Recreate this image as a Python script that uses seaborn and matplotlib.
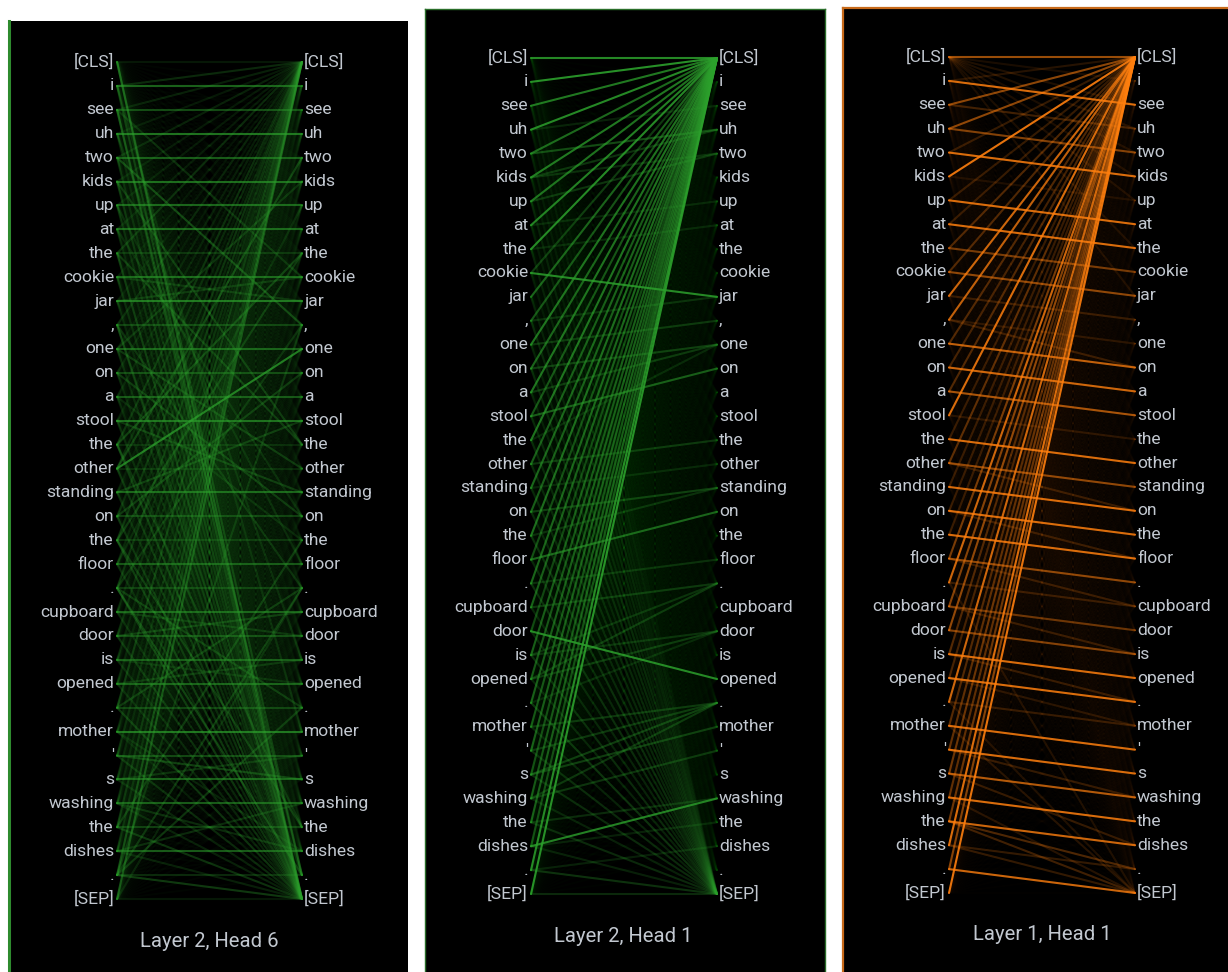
import numpy as np
import matplotlib
matplotlib.use("Agg")
import matplotlib.pyplot as plt
from matplotlib.collections import LineCollection
from matplotlib.colors import to_rgb
import seaborn as sns

sns.set_theme(style="white")
plt.rcParams["font.family"] = ["Roboto", "DejaVu Sans"]

# ---------------------------------------------------------------- tokens
TOKENS = ["[CLS]", "i", "see", "uh", "two", "kids", "up", "at", "the", "cookie",
          "jar", ",", "one", "on", "a", "stool", "the", "other", "standing", "on",
          "the", "floor", ".", "cupboard", "door", "is", "opened", ".", "mother", "'",
          "s", "washing", "the", "dishes", ".", "[SEP]"]
N = len(TOKENS)

# ------------------------------------------------ Layer 2, Head 6 weights
L2H6_SELF = [0.15, 0.6, 0.45, 0.7, 0.55, 0.65, 0.6, 0.6, 0.25, 0.6,
             0.7, 0.35, 0.55, 0.4, 0.5, 0.65, 0.2, 0.2, 0.6, 0.35,
             0.25, 0.5, 0.3, 0.55, 0.4, 0.5, 0.55, 0.35, 0.7, 0.4,
             0.55, 0.55, 0.35, 0.55, 0.25, 0.15]
L2H6_TO_CLS = [0.0, 0.25, 0.2, 0.15, 0.2, 0.15, 0.15, 0.15, 0.25, 0.1,
               0.1, 0.2, 0.1, 0.15, 0.15, 0.1, 0.25, 0.2, 0.1, 0.2,
               0.25, 0.15, 0.25, 0.15, 0.2, 0.15, 0.15, 0.3, 0.1, 0.2,
               0.15, 0.15, 0.25, 0.2, 0.4, 0.45]
L2H6_TO_SEP = [0.45, 0.3, 0.3, 0.15, 0.2, 0.25, 0.2, 0.15, 0.3, 0.2,
               0.15, 0.25, 0.2, 0.15, 0.15, 0.2, 0.3, 0.25, 0.2, 0.25,
               0.3, 0.2, 0.3, 0.2, 0.25, 0.2, 0.2, 0.3, 0.15, 0.25,
               0.2, 0.2, 0.3, 0.2, 0.35, 0.0]
L2H6_EXTRA = [(17, 12, 0.75), (4, 11, 0.4), (17, 4, 0.35), (5, 16, 0.3), (2, 9, 0.25),
              (20, 8, 0.3), (16, 8, 0.35), (32, 20, 0.3), (8, 16, 0.3), (20, 32, 0.3),
              (16, 32, 0.25), (12, 17, 0.3), (22, 34, 0.35), (27, 22, 0.3), (34, 27, 0.3),
              (22, 27, 0.3), (11, 22, 0.25), (29, 30, 0.35), (30, 29, 0.25), (18, 15, 0.3),
              (15, 18, 0.3), (24, 23, 0.3), (23, 24, 0.25), (33, 31, 0.25), (31, 33, 0.25),
              (28, 33, 0.2), (26, 25, 0.25), (25, 26, 0.2), (9, 10, 0.25), (10, 9, 0.25),
              (19, 13, 0.3), (13, 19, 0.3), (14, 20, 0.2), (6, 21, 0.2), (21, 6, 0.2),
              (1, 28, 0.2), (3, 25, 0.2), (7, 19, 0.2), (12, 5, 0.25), (34, 22, 0.3),
              (35, 22, 0.2), (0, 34, 0.3), (2, 34, 0.3), (34, 11, 0.25), (22, 11, 0.25),
              (11, 34, 0.2)]
L2H6_FLOOR = 0.03

# ------------------------------------------------ Layer 2, Head 1 weights
L2H1_TO_CLS = [0.85, 0.9, 0.75, 0.85, 0.65, 0.75, 0.7, 0.8, 0.85, 0.35,
               0.6, 0.5, 0.7, 0.6, 0.7, 0.5, 0.7, 0.55, 0.6, 0.55,
               0.65, 0.45, 0.6, 0.55, 0.4, 0.55, 0.5, 0.55, 0.5, 0.55,
               0.45, 0.5, 0.55, 0.45, 0.85, 0.9]
L2H1_TO_SEP = [0.05, 0.05, 0.1, 0.05, 0.1, 0.1, 0.15, 0.1, 0.15, 0.1,
               0.15, 0.2, 0.15, 0.2, 0.15, 0.2, 0.2, 0.2, 0.2, 0.2,
               0.25, 0.2, 0.25, 0.2, 0.2, 0.25, 0.2, 0.3, 0.2, 0.25,
               0.25, 0.2, 0.25, 0.2, 0.3, 0.25]
L2H1_EXTRA = [(9, 10, 0.85), (24, 26, 0.85), (33, 31, 0.8), (21, 19, 0.6), (15, 13, 0.55),
              (4, 3, 0.45), (5, 3, 0.3), (6, 4, 0.3), (5, 4, 0.25), (7, 6, 0.2),
              (12, 11, 0.3), (13, 12, 0.35), (14, 12, 0.3), (16, 12, 0.2), (17, 16, 0.3),
              (19, 18, 0.35), (20, 18, 0.25), (18, 17, 0.2), (23, 22, 0.3), (25, 22, 0.25),
              (26, 22, 0.3), (28, 27, 0.3), (29, 27, 0.3), (30, 27, 0.35), (31, 27, 0.3),
              (30, 28, 0.35), (31, 29, 0.3), (26, 24, 0.3), (25, 24, 0.25), (27, 24, 0.2),
              (32, 31, 0.25), (34, 33, 0.2), (33, 32, 0.2), (11, 10, 0.25), (22, 21, 0.25),
              (3, 2, 0.2), (8, 7, 0.2)]
L2H1_FLOOR = 0.02

# ------------------------------------------------ Layer 1, Head 1 weights
L1H1_NEXT = [0.1, 0.85, 0.25, 0.5, 0.85, 0.1, 0.85, 0.85, 0.45, 0.55,
             0.2, 0.15, 0.75, 0.8, 0.65, 0.15, 0.85, 0.55, 0.85, 0.85,
             0.85, 0.55, 0.2, 0.4, 0.5, 0.85, 0.85, 0.2, 0.85, 0.85,
             0.7, 0.85, 0.8, 0.2, 0.8]
L1H1_TO_CLS = [0.6, 0.15, 0.55, 0.55, 0.2, 0.9, 0.2, 0.2, 0.3, 0.3,
               0.8, 0.75, 0.3, 0.25, 0.3, 0.85, 0.2, 0.35, 0.2, 0.2,
               0.2, 0.45, 0.8, 0.5, 0.55, 0.3, 0.25, 0.8, 0.3, 0.35,
               0.4, 0.35, 0.4, 0.85, 0.5, 0.9]
L1H1_EXTRA = [(32, 34, 0.3), (32, 35, 0.25), (30, 33, 0.2), (31, 35, 0.15), (33, 35, 0.2),
              (28, 35, 0.15), (21, 23, 0.2), (23, 25, 0.2), (17, 19, 0.2), (19, 21, 0.2),
              (11, 13, 0.2), (25, 27, 0.2), (26, 28, 0.15), (29, 31, 0.2), (0, 2, 0.12),
              (0, 3, 0.12), (0, 4, 0.1), (0, 5, 0.1), (0, 6, 0.1), (0, 8, 0.1),
              (0, 10, 0.1), (2, 3, 0.2), (34, 35, 0.3), (27, 35, 0.12), (22, 35, 0.12)]
L1H1_FLOOR = 0.012

TITLES = ["Layer 2, Head 6", "Layer 2, Head 1", "Layer 1, Head 1"]


def build_matrix(floor, self_w=None, next_w=None, to_cls=None, to_sep=None, extra=()):
    W = np.full((N, N), floor)
    if self_w is not None:
        for i, w in enumerate(self_w):
            W[i, i] = max(W[i, i], w)
    if next_w is not None:
        for i, w in enumerate(next_w):
            W[i, i + 1] = max(W[i, i + 1], w)
    if to_cls is not None:
        for i, w in enumerate(to_cls):
            W[i, 0] = max(W[i, 0], w)
    if to_sep is not None:
        for i, w in enumerate(to_sep):
            W[i, N - 1] = max(W[i, N - 1], w)
    for i, j, w in extra:
        W[i, j] = max(W[i, j], w)
    return np.clip(W, 0, 1)


palette = sns.color_palette("tab10")
GREEN = to_rgb(palette[2])
ORANGE = to_rgb(palette[1])
TEXT = "#c2c8d0"

FW, FH = 1228, 972
fig = plt.figure(figsize=(FW / 100, FH / 100), dpi=100)
fig.patch.set_facecolor("white")


def add_panel(box, cols, rows, title_xy, title, W, color, border, spines, spine_w):
    l, t, r, b = box
    ax = fig.add_axes([l / FW, 1 - b / FH, (r - l) / FW, (b - t) / FH])
    ax.set_facecolor("black")
    L, R = cols
    T0, T1 = rows
    sx = R - L
    sy = (T1 - T0) / (N - 1)
    ax.set_xlim((l - L) / sx, (r - L) / sx)
    ax.set_ylim((b - T0) / sy, (t - T0) / sy)

    pairs = [(i, j) for i in range(N) for j in range(N) if W[i, j] > 0]
    pairs.sort(key=lambda p: W[p])
    segs = [[(0, i), (1, j)] for i, j in pairs]
    cols_rgba = [(*color, W[i, j]) for i, j in pairs]
    ax.add_collection(LineCollection(segs, colors=cols_rgba, linewidths=1.5,
                                     capstyle="round"))

    for k, tok in enumerate(TOKENS):
        ax.text(-3 / sx, k, tok, ha="right", va="center", color=TEXT, fontsize=12.6)
        ax.text(1 + 2 / sx, k, tok, ha="left", va="center", color=TEXT, fontsize=12.6)
    ax.text((title_xy[0] - L) / sx, (title_xy[1] - T0) / sy, title,
            ha="center", va="center", color=TEXT, fontsize=14.6)

    ax.set_xticks([])
    ax.set_yticks([])
    for side, sp in ax.spines.items():
        if side in spines:
            sp.set_visible(True)
            sp.set_color(border)
            sp.set_linewidth(spine_w)
        else:
            sp.set_visible(False)
    return ax


W_a = build_matrix(L2H6_FLOOR, self_w=L2H6_SELF, to_cls=L2H6_TO_CLS,
                   to_sep=L2H6_TO_SEP, extra=L2H6_EXTRA)
W_b = build_matrix(L2H1_FLOOR, to_cls=L2H1_TO_CLS, to_sep=L2H1_TO_SEP, extra=L2H1_EXTRA)
W_c = build_matrix(L1H1_FLOOR, next_w=L1H1_NEXT, to_cls=L1H1_TO_CLS, extra=L1H1_EXTRA)

add_panel((9, 21, 408, 972), (117, 302), (62, 899), (209, 941), TITLES[0],
          W_a, GREEN, "#2e8b2e", ["left"], 2.2)
add_panel((425, 9, 825, 972), (531, 717), (58, 894), (623, 936), TITLES[1],
          W_b, GREEN, "#2a6e2a", ["left", "top", "right"], 1.0)
add_panel((843, 8, 1228, 972), (949, 1135), (57, 893), (1042, 935), TITLES[2],
          W_c, ORANGE, "#c86a1a", ["left", "top"], 1.6)

fig.savefig("out.png", dpi=100, facecolor="white")
